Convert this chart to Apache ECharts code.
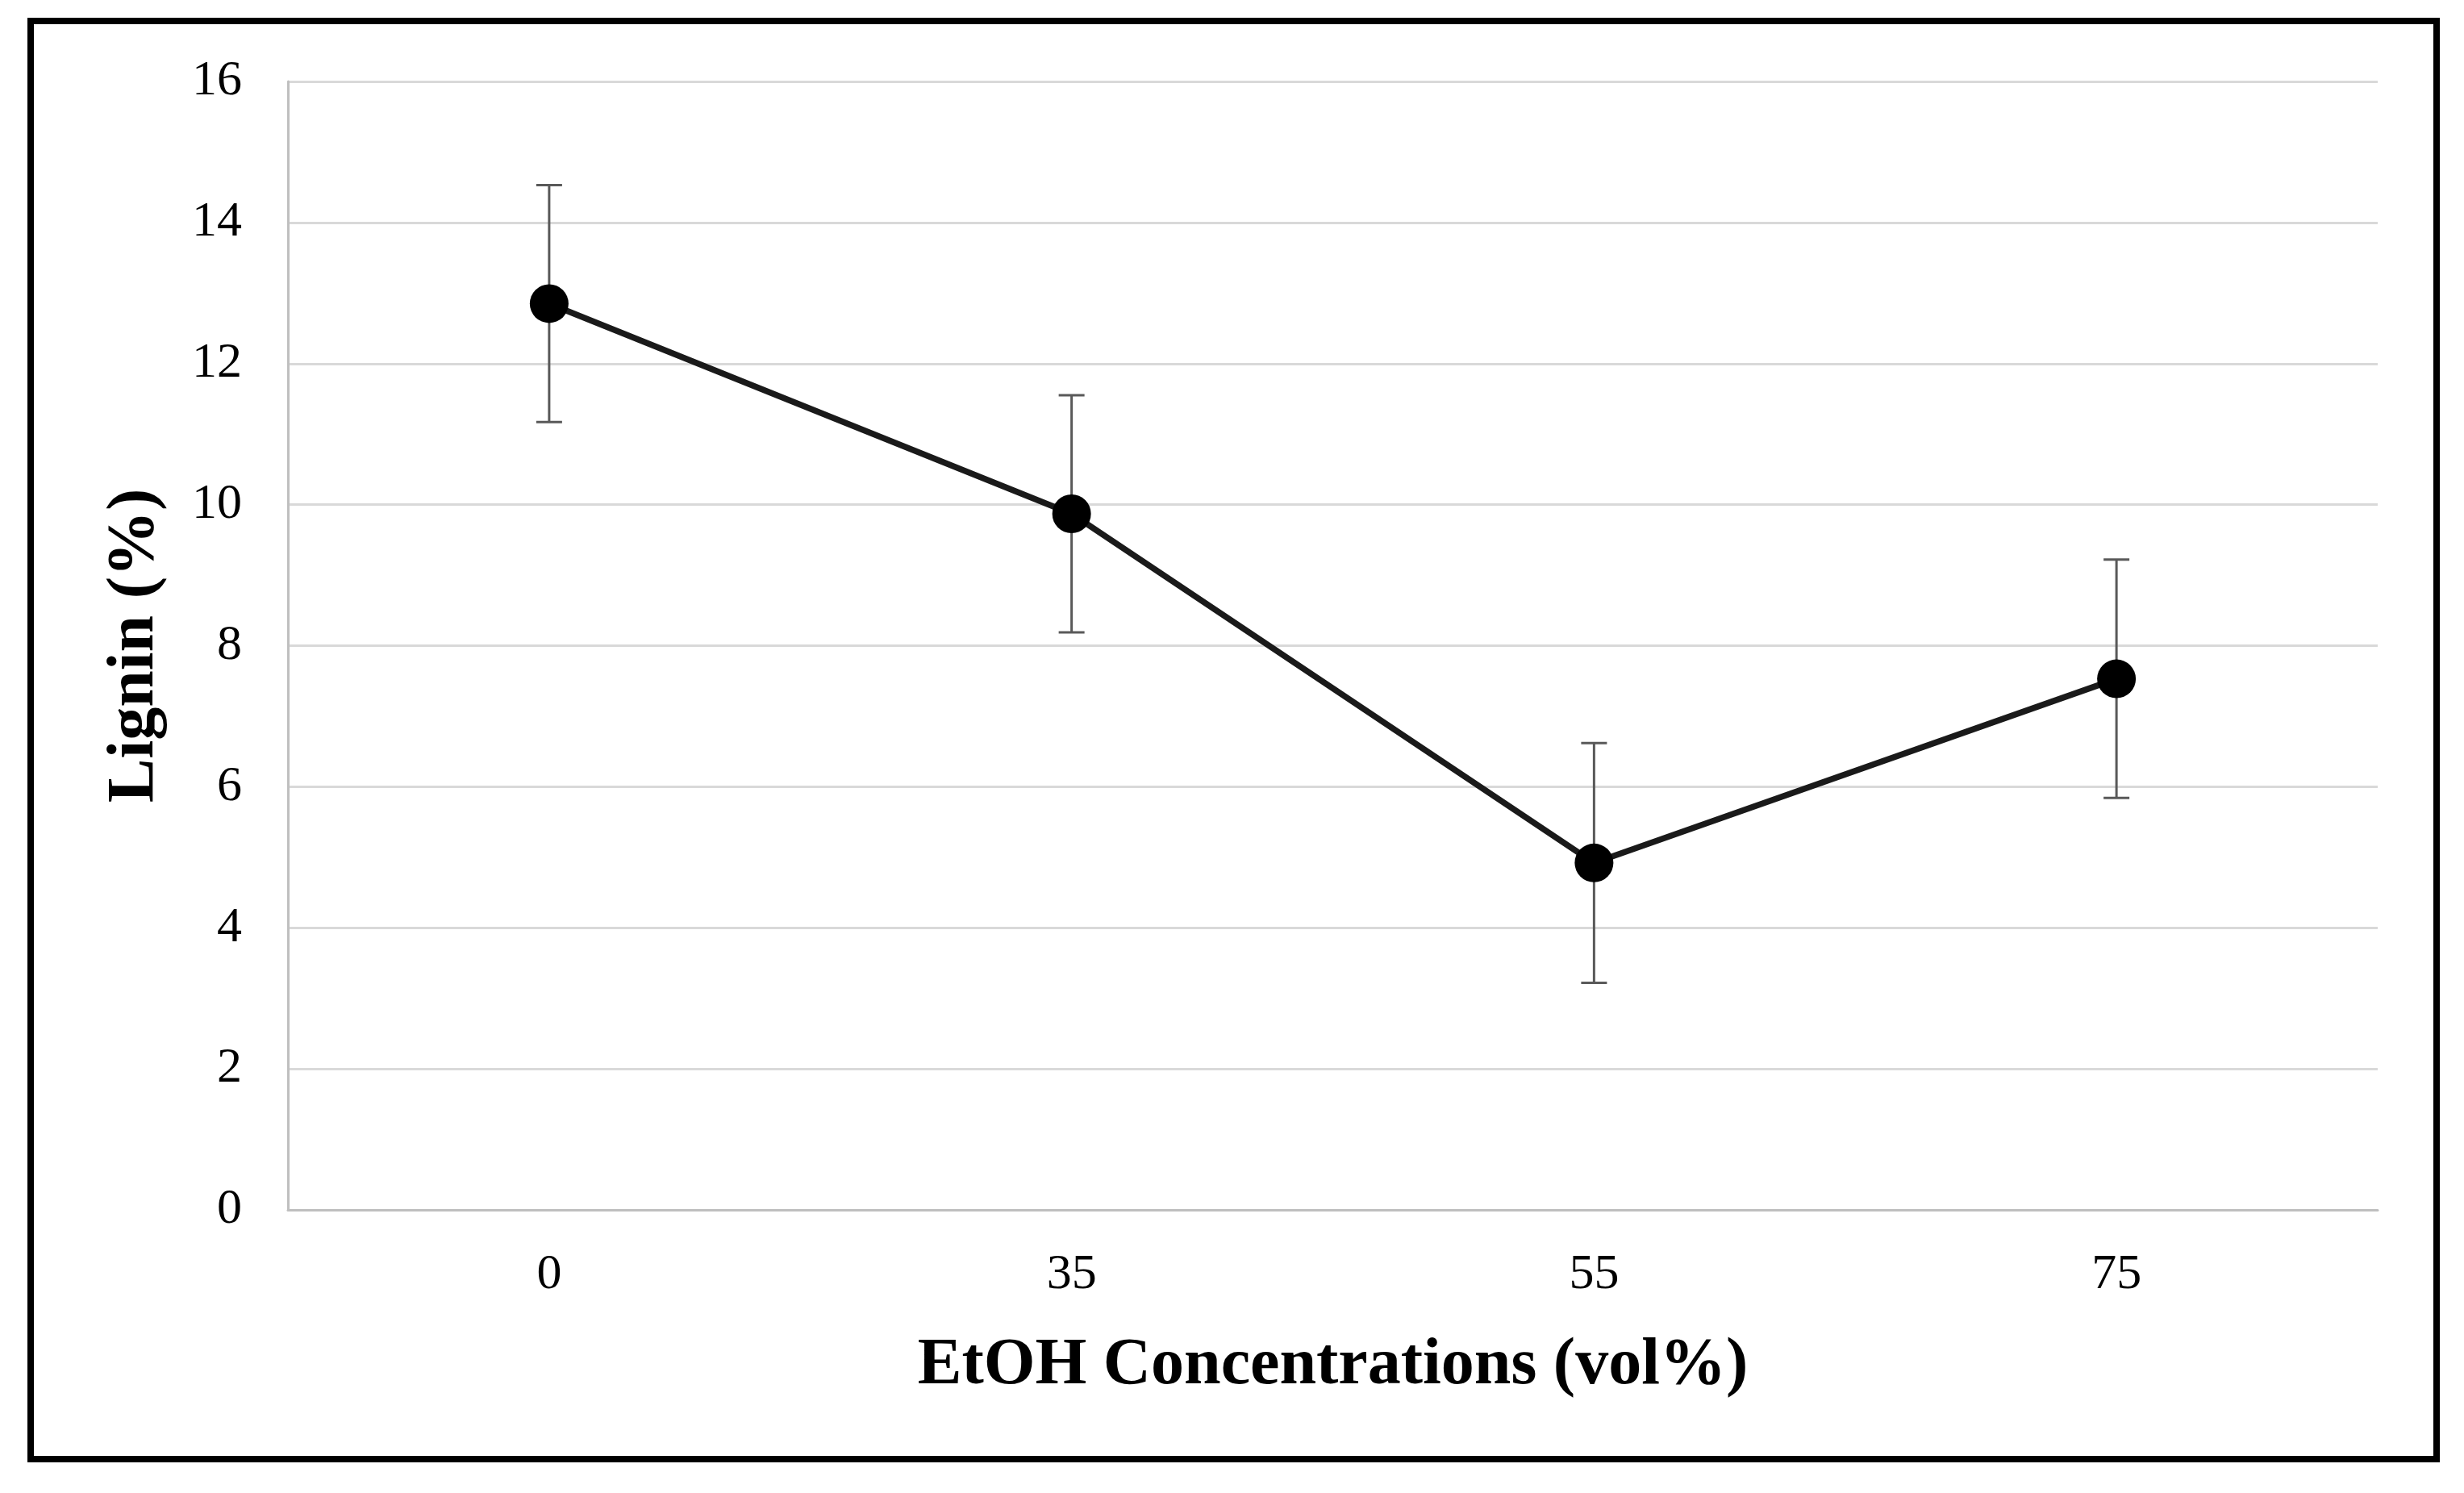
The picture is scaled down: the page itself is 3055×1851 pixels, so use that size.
<!DOCTYPE html>
<html>
<head>
<meta charset="utf-8">
<script src="https://cdn.jsdelivr.net/npm/echarts@6/dist/echarts.min.js"></script>
<style>
html,body{margin:0;padding:0;background:#fff;}
#chart{width:3055px;height:1851px;}
</style>
</head>
<body>
<div id="chart"></div>
<script>
var categories = ['0', '35', '55', '75'];
var lignin = [12.85, 9.87, 4.92, 7.53];
var errorSD = [1.68, 1.68, 1.70, 1.69];
var yTicks = [0, 2, 4, 6, 8, 10, 12, 14, 16];

var chart = echarts.init(document.getElementById('chart'));
var errData = lignin.map(function (v, i) { return [i, v - errorSD[i], v + errorSD[i]]; });
var font = '"Liberation Serif", "Times New Roman", serif';

chart.setOption({
  animation: false,
  backgroundColor: '#fff',
  graphic: [{
    type: 'rect',
    shape: { x: 38, y: 26, width: 2983, height: 1783 },
    style: { fill: 'none', stroke: '#000', lineWidth: 8 },
    z: 100
  }],
  grid: { left: 357, right: 3055 - 2948, top: 101, bottom: 1851 - 1500, containLabel: false },
  xAxis: {
    type: 'category',
    data: categories,
    boundaryGap: true,
    axisLine: { show: true, lineStyle: { color: '#bfbfbf', width: 3 } },
    axisTick: { show: false },
    axisLabel: { color: '#000', fontFamily: font, fontSize: 62, margin: 50 },
    name: 'EtOH Concentrations (vol%)',
    nameLocation: 'middle',
    nameGap: 153,
    nameTextStyle: { color: '#000', fontFamily: font, fontSize: 82, fontWeight: 'bold' }
  },
  yAxis: {
    type: 'value',
    min: 0, max: 16, interval: 2,
    axisLine: { show: true, lineStyle: { color: '#bfbfbf', width: 3 } },
    axisTick: { show: false },
    splitLine: { show: true, lineStyle: { color: '#d9d9d9', width: 3 } },
    axisLabel: {
      color: '#000', fontFamily: font, fontSize: 62, margin: 57,
      formatter: function (v) { return yTicks.indexOf(v) >= 0 ? String(v) : ''; }
    },
    name: 'Lignin (%)',
    nameLocation: 'middle',
    nameGap: 148,
    nameTextStyle: { color: '#000', fontFamily: font, fontSize: 82, fontWeight: 'bold' }
  },
  series: [
    {
      type: 'custom',
      data: errData,
      z: 1,
      renderItem: function (params, api) {
        var x = api.value(0);
        var lo = api.coord([x, api.value(1)]);
        var hi = api.coord([x, api.value(2)]);
        var cap = 16;
        var st = { stroke: '#595959', lineWidth: 3, fill: 'none' };
        return {
          type: 'group',
          children: [
            { type: 'line', shape: { x1: lo[0], y1: lo[1], x2: hi[0], y2: hi[1] }, style: st },
            { type: 'line', shape: { x1: lo[0] - cap, y1: lo[1], x2: lo[0] + cap, y2: lo[1] }, style: st },
            { type: 'line', shape: { x1: hi[0] - cap, y1: hi[1], x2: hi[0] + cap, y2: hi[1] }, style: st }
          ]
        };
      }
    },
    {
      type: 'line',
      data: lignin,
      z: 3,
      symbol: 'circle',
      symbolSize: 48,
      lineStyle: { color: '#1a1a1a', width: 7.5 },
      itemStyle: { color: '#000' }
    }
  ]
});
</script>
</body>
</html>
